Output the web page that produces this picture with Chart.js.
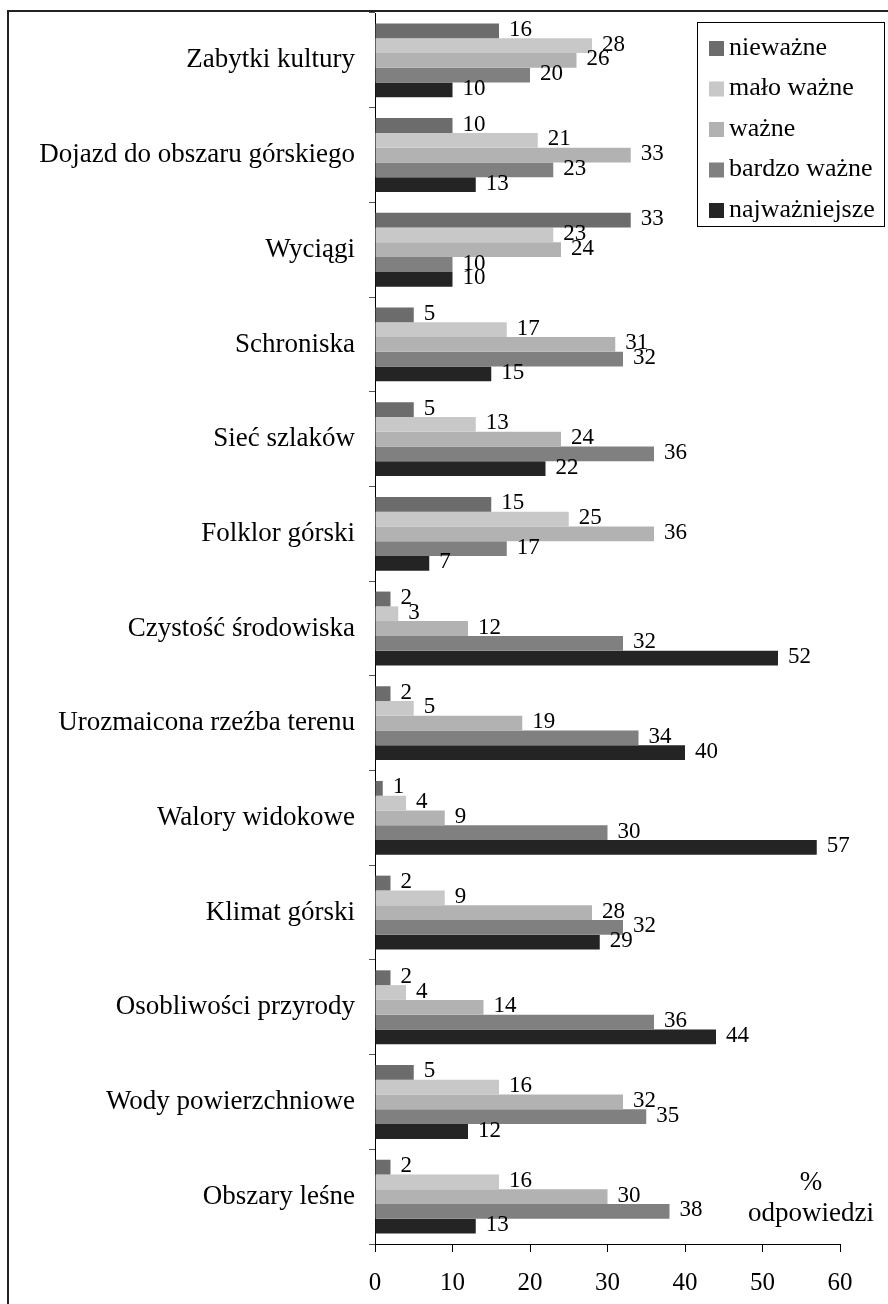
<!DOCTYPE html>
<html>
<head>
<meta charset="utf-8">
<script src="https://cdn.jsdelivr.net/npm/chart.js@4"></script>
<style>
  body { margin: 0; background: #fff; }
  canvas { display: block; }
</style>
</head>
<body>
<canvas id="chart" width="888" height="1304"></canvas>
<script>
const categories = [
  'Zabytki kultury',
  'Dojazd do obszaru górskiego',
  'Wyciągi',
  'Schroniska',
  'Sieć szlaków',
  'Folklor górski',
  'Czystość środowiska',
  'Urozmaicona rzeźba terenu',
  'Walory widokowe',
  'Klimat górski',
  'Osobliwości przyrody',
  'Wody powierzchniowe',
  'Obszary leśne'
];

const seriesNames = ['nieważne', 'mało ważne', 'ważne', 'bardzo ważne', 'najważniejsze'];

const niewazne      = [16, 10, 33, 5, 5, 15, 2, 2, 1, 2, 2, 5, 2];
const maloWazne     = [28, 21, 23, 17, 13, 25, 3, 5, 4, 9, 4, 16, 16];
const wazne         = [26, 33, 24, 31, 24, 36, 12, 19, 9, 28, 14, 32, 30];
const bardzoWazne   = [20, 23, 10, 32, 36, 17, 32, 34, 30, 32, 36, 35, 38];
const najwazniejsze = [10, 13, 10, 15, 22, 7, 52, 40, 57, 29, 44, 12, 13];

const xTicks = [0, 10, 20, 30, 40, 50, 60];

const colors = ['#6c6c6c', '#c8c8c8', '#b2b2b2', '#808080', '#242424'];
const allSeries = [niewazne, maloWazne, wazne, bardzoWazne, najwazniejsze];

const serif = '"Liberation Serif", "Times New Roman", serif';

// value labels at the end of each bar
const valueLabels = {
  id: 'valueLabels',
  afterDatasetsDraw(chart) {
    const ctx = chart.ctx;
    ctx.save();
    ctx.font = '23px ' + serif;
    ctx.fillStyle = '#000';
    ctx.textAlign = 'left';
    ctx.textBaseline = 'middle';
    chart.data.datasets.forEach((ds, i) => {
      chart.getDatasetMeta(i).data.forEach((bar, j) => {
        ctx.fillText(String(ds.data[j]), bar.x + 10, bar.y - 1);
      });
    });
    ctx.restore();
  }
};

// frame, legend box and axis caption
const decorations = {
  id: 'decorations',
  afterDraw(chart) {
    const ctx = chart.ctx;
    ctx.save();
    ctx.strokeStyle = '#222';
    ctx.lineWidth = 2;
    ctx.strokeRect(8, 11, 1000, 1400);

    // legend
    ctx.lineWidth = 1;
    ctx.strokeStyle = '#000';
    ctx.fillStyle = '#fff';
    ctx.fillRect(697.5, 22.5, 187, 204);
    ctx.strokeRect(697.5, 22.5, 187, 204);
    ctx.font = '26px ' + serif;
    ctx.textBaseline = 'middle';
    ctx.textAlign = 'left';
    seriesNames.forEach((name, i) => {
      const cy = 48 + i * 40.5;
      ctx.fillStyle = colors[i];
      ctx.fillRect(709, cy - 7, 15, 15);
      ctx.fillStyle = '#000';
      ctx.fillText(name, 729, cy);
    });

    // axis caption
    ctx.font = '27px ' + serif;
    ctx.textAlign = 'center';
    ctx.fillText('%', 811, 1183);
    ctx.fillText('odpowiedzi', 811, 1214);
    ctx.restore();
  }
};

new Chart(document.getElementById('chart'), {
  type: 'bar',
  data: {
    labels: categories,
    datasets: allSeries.map((d, i) => ({
      label: seriesNames[i],
      data: d,
      backgroundColor: colors[i],
      borderWidth: 0,
      categoryPercentage: 0.78,
      barPercentage: 1.0
    }))
  },
  options: {
    indexAxis: 'y',
    responsive: false,
    animation: false,
    layout: { padding: { top: 13, right: 48, left: 0, bottom: 0 } },
    plugins: {
      legend: { display: false },
      tooltip: { enabled: false }
    },
    scales: {
      x: {
        min: 0,
        max: 60,
        afterBuildTicks(scale) {
          scale.ticks = xTicks.map(v => ({ value: v }));
        },
        afterFit(scale) { scale.height = 60; },
        grid: {
          drawOnChartArea: false,
          drawTicks: true,
          tickLength: 8,
          color: '#000'
        },
        border: { color: '#000', width: 1 },
        ticks: {
          color: '#000',
          font: { family: serif, size: 25 },
          padding: 16,
          maxRotation: 0
        }
      },
      y: {
        afterFit(scale) {
          scale.width = 375;
          scale.paddingTop = 0;
          scale.paddingBottom = 0;
        },
        grid: {
          drawOnChartArea: false,
          drawTicks: true,
          tickLength: 6,
          color: '#555',
          offset: true
        },
        border: { color: '#000', width: 1 },
        ticks: {
          color: '#000',
          font: { family: serif, size: 27 },
          padding: 14
        }
      }
    }
  },
  plugins: [valueLabels, decorations]
});
</script>
</body>
</html>
